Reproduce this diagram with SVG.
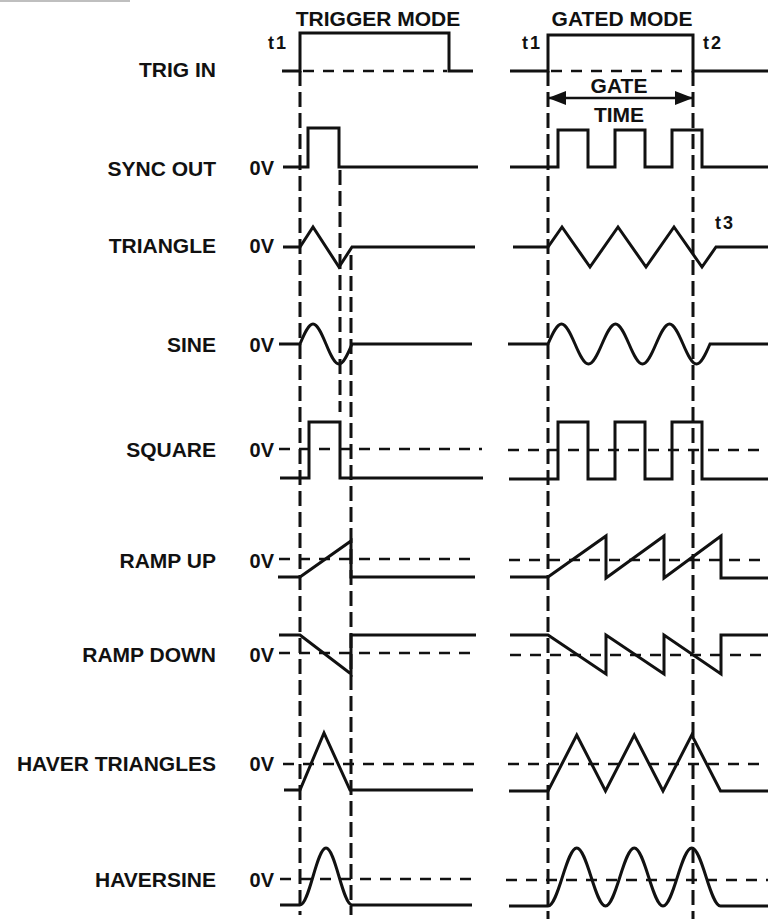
<svg xmlns="http://www.w3.org/2000/svg" width="769" height="919" viewBox="0 0 769 919">
<style>
text{font-family:"Liberation Sans",Arial,sans-serif;font-weight:bold;fill:#111}
.lbl{font-size:21px;text-anchor:end}
.zv{font-size:20px;text-anchor:end}
.ttl{font-size:21px;text-anchor:middle}
.t{font-size:18px;letter-spacing:2px}
.w{fill:none;stroke:#111;stroke-width:3;stroke-linejoin:miter}
.z{fill:none;stroke:#111;stroke-width:2.5;stroke-dasharray:11 9}
.v{fill:none;stroke:#111;stroke-width:3;stroke-dasharray:15 6}
</style>
<defs>
<marker id="ah" viewBox="0 0 18 14" refX="18" refY="7" markerWidth="18" markerHeight="14" markerUnits="userSpaceOnUse" orient="auto-start-reverse">
<path d="M0,0 L18,7 L0,14 Z" fill="#111"/>
</marker>
</defs>
<rect width="769" height="919" fill="#fff"/>
<line x1="0" y1="1" x2="130" y2="1" stroke="#aaa" stroke-width="1.5"/>

<g id="titles">
<text class="ttl" x="378" y="26">TRIGGER MODE</text>
<text class="ttl" x="622" y="26">GATED MODE</text>
<text class="t" x="268" y="49">t1</text>
<text class="t" x="522" y="49">t1</text>
<text class="t" x="703" y="49">t2</text>
<text class="t" x="715" y="229">t3</text>
<text class="ttl" x="619" y="93">GATE</text>
<text class="ttl" x="619" y="122">TIME</text>
</g>

<g id="connectors">
<line class="v" x1="300" y1="71" x2="300" y2="915"/>
<line class="v" x1="340" y1="170" x2="340" y2="412"/>
<line class="v" x1="351" y1="255" x2="351" y2="915"/>
<line class="v" x1="548" y1="71" x2="548" y2="919"/>
<line class="v" x1="693" y1="71" x2="693" y2="919"/>
<line x1="548" y1="98" x2="693" y2="98" stroke="#111" stroke-width="2.5" marker-start="url(#ah)" marker-end="url(#ah)"/>
</g>

<g id="trig-in">
<text class="lbl" x="216" y="77">TRIG IN</text>
<path class="w" d="M282,71 H300 V33 H449 V71 H473"/>
<line class="z" x1="303" y1="71" x2="447" y2="71"/>
<path class="w" d="M510,71 H548 V35 H693 V71 H768"/>
<line class="z" x1="551" y1="71" x2="691" y2="71"/>
</g>

<g id="sync-out">
<text class="lbl" x="216" y="176">SYNC OUT</text>
<text class="zv" x="274" y="175">0V</text>
<path class="w" d="M283,167 H308 V128 H339 V167 H478"/>
<path class="w" d="M510,167 H558 V130 H588 V167 H615 V130 H645 V167 H672 V130 H702 V167 H768"/>
</g>

<g id="triangle">
<text class="lbl" x="216" y="253">TRIANGLE</text>
<text class="zv" x="274" y="253">0V</text>
<path class="w" d="M283,247 H300 L313,227 L339,267 L352,247 H475"/>
<path class="w" d="M513,247 H548 L562,227 L590,267 L618,227 L646,267 L674,227 L702,267 L716,247 H768"/>
</g>

<g id="sine">
<text class="lbl" x="216" y="352">SINE</text>
<text class="zv" x="274" y="352">0V</text>
<path class="w" d="M279,344 H300 C304.24,333.76 308.43,324 313,324 S321.76,333.76 326,344 S334.43,364 339,364 S347.76,354.24 352,344 H472"/>
<path class="w" d="M508,344 H548 C552.40,333.76 556.75,324 561.5,324 S570.60,333.76 575,344 S583.75,364 588.5,364 S597.60,354.24 602,344 S610.75,324 615.5,324 S624.60,333.76 629,344 S637.75,364 642.5,364 S651.60,354.24 656,344 S664.75,324 669.5,324 S678.60,333.76 683,344 S691.75,364 696.5,364 S705.60,354.24 710,344 H768"/>
</g>

<g id="square">
<text class="lbl" x="216" y="457">SQUARE</text>
<text class="zv" x="274" y="457">0V</text>
<line class="z" x1="279" y1="449" x2="482" y2="449"/>
<path class="w" d="M280,478 H309 V422 H340 V478 H483"/>
<line class="z" x1="508" y1="450" x2="768" y2="450"/>
<path class="w" d="M509,479 H558 V422 H588 V479 H615 V422 H645 V479 H672 V422 H702 V479 H768"/>
</g>

<g id="ramp-up">
<text class="lbl" x="216" y="568">RAMP UP</text>
<text class="zv" x="274" y="568">0V</text>
<line class="z" x1="279" y1="559" x2="476" y2="559"/>
<path class="w" d="M278,577 H300 L351,541 V577 H475"/>
<line class="z" x1="509" y1="560" x2="768" y2="560"/>
<path class="w" d="M510,577 H548 L606,536 V578 L664,536 V578 L721,536 V578 H768"/>
</g>

<g id="ramp-down">
<text class="lbl" x="216" y="662">RAMP DOWN</text>
<text class="zv" x="274" y="662">0V</text>
<line class="z" x1="279" y1="653" x2="477" y2="653"/>
<path class="w" d="M279,635 H300 L351,674 V635 H476"/>
<line class="z" x1="510" y1="655" x2="768" y2="655"/>
<path class="w" d="M510,635 H548 L606,674 V635 L664,674 V635 L721,674 V635 H768"/>
</g>

<g id="haver-triangles">
<text class="lbl" x="216" y="771">HAVER TRIANGLES</text>
<text class="zv" x="274" y="771">0V</text>
<line class="z" x1="283" y1="764" x2="477" y2="764"/>
<path class="w" d="M284,790 H300 L324,733 L350,790 H473"/>
<line class="z" x1="508" y1="764" x2="768" y2="764"/>
<path class="w" d="M509,791 H548 L576.75,735 L605.5,791 L634.25,735 L663,791 L691.75,735 L720.5,791 H768"/>
</g>

<g id="haversine">
<text class="lbl" x="216" y="887">HAVERSINE</text>
<text class="zv" x="274" y="887">0V</text>
<line class="z" x1="280" y1="879" x2="480" y2="879"/>
<path class="w" d="M280,905 H300 C304.57,905 308.76,891.10 313,876.5 S321.43,848 326,848 S334.76,861.9 339,876.5 S347.43,905 352,905 H472"/>
<line class="z" x1="506" y1="880" x2="768" y2="880"/>
<path class="w" d="M509,906 H548 C553.05,906 557.69,891.85 562.38,877 S571.70,848 576.75,848 S586.44,862.15 591.13,877 S600.45,906 605.5,906 S615.19,891.85 619.88,877 S629.20,848 634.25,848 S643.94,862.15 648.63,877 S657.95,906 663,906 S672.69,891.85 677.38,877 S686.70,848 691.75,848 S701.44,862.15 706.13,877 S715.45,906 720.5,906 H768"/>
</g>
</svg>
